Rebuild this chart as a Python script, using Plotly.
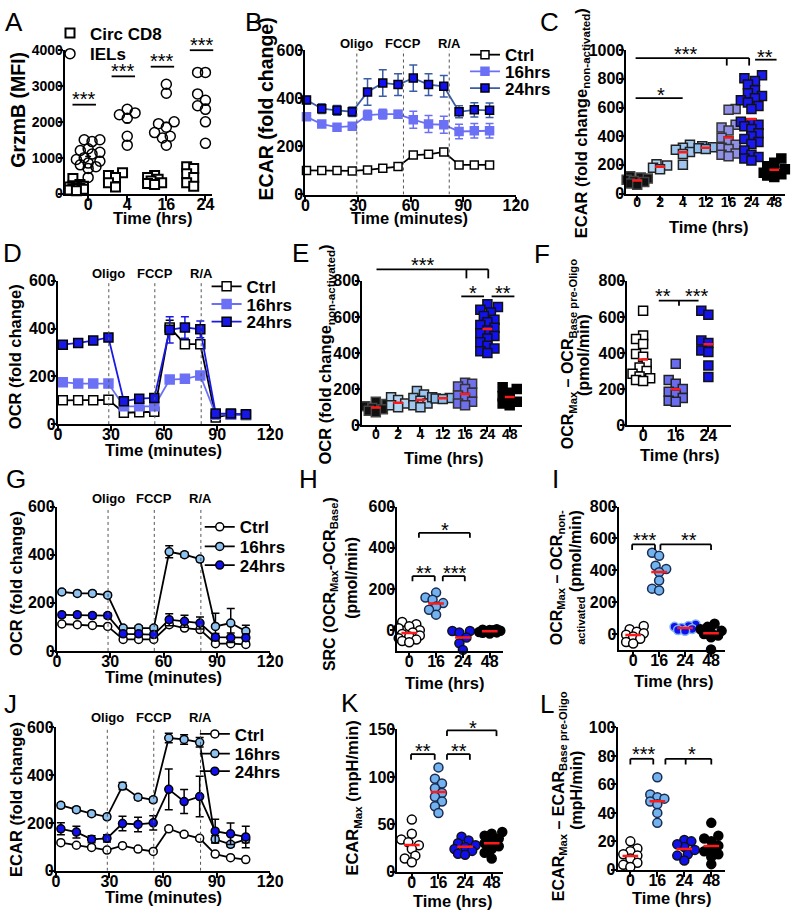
import numpy as np
import plotly.graph_objects as go

W, H = 799, 923
FONT = "Liberation Sans, Arial, Helvetica, sans-serif"

# ---------------- data ----------------
A_cats = ["0", "4", "16", "24"]
A_cd8 = [[420, 250, 220, 200, 180, 160, 150, 130, 120, 100, 80],
         [580, 500, 450, 300, 180],
         [500, 450, 400, 350, 300, 280, 250],
         [750, 700, 550, 450, 300, 200]]
A_iel = [[1500, 1500, 1450, 1250, 1200, 1150, 1100, 1000, 950, 900, 850, 800, 750, 700, 450],
         [2350, 2250, 2200, 2100, 1600, 1350],
         [3050, 2800, 2000, 1950, 1850, 1700, 1600, 1550, 1350],
         [3380, 3380, 2780, 2600, 2450, 2400, 2350, 2150, 2000, 1400]]
A_sig_y = [2480, 3270, 3540, 4000]

TC_ticks = [0, 30, 60, 90, 120]
INJ = ["Oligo", "FCCP", "R/A"]

B_time = [0.6, 9.3, 18.0, 26.7, 35.4, 44.1, 52.8, 61.5, 70.2, 78.9, 87.6, 96.3, 105.0]
B_inj = [29.3, 55.9, 82.0]
B_ctrl = [100, 100, 100, 98, 102, 109, 116, 164, 167, 177, 123, 123, 123]
B_ctrl_err = [4, 4, 4, 4, 4, 5, 5, 8, 8, 8, 5, 5, 5]
B_16 = [323, 293, 280, 284, 330, 334, 334, 311, 293, 290, 262, 265, 265]
B_16_err = [10, 10, 10, 10, 20, 20, 15, 35, 35, 35, 30, 30, 30]
B_24 = [393, 357, 350, 344, 426, 464, 457, 484, 457, 450, 344, 352, 350]
B_24_err = [15, 20, 20, 20, 55, 55, 45, 55, 45, 45, 25, 30, 30]

T_time = [2.8, 11.5, 20.0, 28.6, 37.3, 46.0, 54.5, 63.2, 71.8, 80.5, 89.2, 97.8, 106.3]
T_inj = [28.8, 54.8, 81.0]

D_ctrl = [100, 100, 100, 102, 48, 50, 52, 405, 335, 335, 28, 41, 39]
D_ctrl_err = [5, 5, 5, 5, 5, 5, 5, 30, 15, 15, 5, 5, 5]
D_16 = [176, 170, 170, 170, 75, 75, 75, 187, 190, 204, 40, 40, 40]
D_16_err = [8, 8, 8, 8, 8, 8, 8, 15, 15, 15, 5, 5, 5]
D_24 = [333, 340, 350, 363, 96, 107, 110, 395, 405, 397, 45, 45, 42]
D_24_err = [8, 8, 8, 8, 15, 15, 15, 55, 45, 35, 8, 8, 8]

G_ctrl = [112, 109, 106, 102, 48, 48, 48, 109, 95, 89, 30, 30, 27]
G_ctrl_err = [5, 5, 5, 5, 5, 5, 5, 8, 8, 8, 5, 5, 5]
G_16 = [245, 239, 239, 232, 95, 95, 95, 412, 400, 382, 102, 116, 82]
G_16_err = [8, 8, 8, 8, 10, 10, 10, 25, 10, 10, 55, 60, 25]
G_24 = [150, 150, 147, 147, 71, 71, 68, 130, 123, 116, 57, 55, 55]
G_24_err = [10, 10, 10, 10, 10, 10, 10, 25, 25, 25, 15, 20, 15]

J_ctrl = [118, 107, 98, 87, 105, 91, 81, 176, 153, 136, 70, 55, 47]
J_ctrl_err = [5, 5, 5, 5, 5, 5, 5, 8, 8, 8, 5, 5, 5]
J_16 = [274, 256, 239, 226, 355, 308, 297, 556, 550, 538, 132, 111, 132]
J_16_err = [10, 10, 10, 10, 15, 10, 10, 20, 20, 20, 15, 10, 15]
J_24 = [176, 162, 132, 136, 198, 194, 201, 341, 290, 311, 166, 155, 142]
J_24_err = [25, 25, 15, 15, 30, 30, 30, 85, 50, 85, 50, 45, 45]

C_cats = ["0", "2", "4", "12", "16", "24", "48"]
C_vals = [[120, 112, 104, 96, 88, 80, 70, 62],
          [205, 195, 180, 170],
          [340, 320, 305, 290, 275, 200],
          [330, 322, 316, 310],
          [590, 585, 480, 460, 440, 390, 365, 340, 320, 310, 280, 270, 260],
          [825, 805, 785, 760, 720, 700, 680, 665, 650, 635, 610, 590, 500, 490, 480,
           470, 450, 420, 400, 380, 360, 345, 300, 270, 255, 245, 230],
          [245, 215, 190, 170, 155, 145, 135, 125, 115]]
E_cats = ["0", "2", "4", "12", "16", "24", "48"]
E_vals = [[130, 118, 105, 95, 88, 80, 72],
          [155, 140, 120, 110, 100],
          [190, 170, 150, 135, 120, 110, 100],
          [155, 150, 148, 145],
          [235, 230, 215, 200, 180, 165, 150, 130, 120, 110],
          [670, 655, 640, 625, 605, 585, 570, 555, 540, 525, 510, 495, 480, 460, 440,
           425, 410, 400],
          [210, 200, 180, 160, 140, 130, 120, 110]]
F_cats = ["0", "16", "24"]
F_vals = [[634, 497, 478, 450, 395, 380, 340, 320, 300, 285, 270, 260, 250, 245],
          [340, 250, 230, 200, 185, 170, 150, 135, 130],
          [634, 612, 469, 455, 414, 405, 331, 267]]
HL_cats = ["0", "16", "24", "48"]
H_vals = [[40, 30, 20, 10, 0, -10, -18, -25, -30, -38, -45, -52, -58],
          [183, 159, 148, 132, 116, 100, 76],
          [-3, -3, -11, -35, -63, -95],
          [5, 3, 2, 0, -2, -5, -8, -10, -12, -15]]
I_vals = [[50, 30, 15, 5, -5, -15, -30, -50, -60],
          [511, 491, 429, 408, 388, 336, 285, 274],
          [60, 50, 45, 38, 32, 25, 20],
          [65, 45, 30, 20, 10, 0, -10, -20, -97]]
K_vals = [[55, 40, 34, 31, 28, 24, 17, 14, 10],
          [110, 98, 93, 88, 83, 79, 74, 69, 62],
          [37, 33, 30, 28, 26, 24, 22, 19, 18],
          [42, 40, 38, 35, 32, 30, 27, 24, 20, 14]]
L_vals = [[20, 15, 13, 11, 10, 8, 5, 3.5, 2],
          [65, 53, 51, 50, 48, 46, 40, 33],
          [21, 20, 16, 11, 10, 6.5, 18, 14],
          [33, 24, 20, 17, 13, 11, 9, 4, 14, 22]]

# ---------------- geometry (pixels) ----------------
PAN = {
    'A': dict(x=(62, 213), y=(43, 189), xr=(-0.6, 3.18), yr=(0, 4000), yt=[0, 1000, 2000, 3000, 4000]),
    'B': dict(x=(308, 523), y=(43, 190), xr=(0, 120), yr=(0, 600), yt=[0, 200, 400, 600]),
    'C': dict(x=(636, 798), y=(43, 189), xr=(-0.47, 6.47), yr=(0, 1000), yt=[0, 200, 400, 600, 800, 1000]),
    'D': dict(x=(55, 272), y=(278, 424), xr=(0, 120), yr=(0, 600), yt=[0, 200, 400, 600]),
    'E': dict(x=(366, 529), y=(278, 425), xr=(-0.61, 6.54), yr=(0, 800), yt=[0, 200, 400, 600, 800]),
    'F': dict(x=(637, 743), y=(278, 425), xr=(-0.48, 2.7), yr=(0, 800), yt=[0, 200, 400, 600, 800]),
    'G': dict(x=(54, 272), y=(508, 655), xr=(0, 120), yr=(0, 600), yt=[0, 200, 400, 600]),
    'H': dict(x=(402, 510), y=(508, 655), xr=(-0.44, 3.5), yr=(-100, 600), yt=[0, 200, 400, 600]),
    'I': dict(x=(628, 737), y=(508, 654), xr=(-0.56, 3.55), yr=(-100, 800), yt=[0, 200, 400, 600, 800]),
    'J': dict(x=(53, 272), y=(733, 879), xr=(0, 120), yr=(0, 600), yt=[0, 200, 400, 600]),
    'K': dict(x=(402, 510), y=(735, 880), xr=(-0.54, 3.43), yr=(0, 150), yt=[0, 50, 100, 150]),
    'L': dict(x=(627, 737), y=(733, 878), xr=(-0.47, 3.52), yr=(0, 100), yt=[0, 20, 40, 60, 80, 100]),
}
ORDER = list("ABCDEFGHIJKL")


def ids(p):
    i = ORDER.index(p) + 1
    s = "" if i == 1 else str(i)
    return "x" + s, "y" + s, "xaxis" + s, "yaxis" + s


def scales(p):
    g = PAN[p]
    ppc = (g['x'][1] - g['x'][0]) / (g['xr'][1] - g['xr'][0])
    ppu = (g['y'][1] - g['y'][0]) / (g['yr'][1] - g['yr'][0])
    return ppc, ppu


def to_paper(p, x, y):
    g = PAN[p]
    (x0, x1), (y0, y1) = g['x'], g['y']
    (a, b), (c, d) = g['xr'], g['yr']
    px = x0 + (x - a) / (b - a) * (x1 - x0)
    py = y1 - (y - c) / (d - c) * (y1 - y0)
    return px / W, 1 - py / H


def swarm(vals, size, ppu, ppc, mind=0.8, maxhalf=12):
    n = len(vals)
    order = sorted(range(n), key=lambda i: vals[i])
    placed, offs = [], [0.0] * n
    step = size * 0.4
    for j, i in enumerate(order):
        y = vals[i] * ppu
        sg = 1 if j % 2 == 0 else -1
        cands = [0.0]
        k = 1
        while k * step <= maxhalf:
            cands += [sg * k * step, -sg * k * step]
            k += 1
        best, bestd = 0.0, -1.0
        for c in cands:
            d = min([((c - px) ** 2 + (y - py) ** 2) ** 0.5 for px, py in placed] or [1e9])
            if d >= size * mind:
                best = c
                break
            if d > bestd:
                best, bestd = c, d
        placed.append((best, y))
        offs[i] = best / ppc
    return offs


fig = go.Figure()
layout = {}
shapes = []
annos = []


def tfont(size, bold=True, color="black"):
    d = dict(family=FONT, size=size, color=color)
    if bold:
        d['weight'] = 'bold'
    return d


# axes
for p in ORDER:
    g = PAN[p]
    xs, ys, xa, ya = ids(p)
    common = dict(showline=True, linecolor='black', linewidth=2, ticks='outside', ticklen=5,
                  tickwidth=2, tickcolor='black', showgrid=False, zeroline=False,
                  fixedrange=True, mirror=False)
    if g['xr'] == (0, 120):
        xt = dict(tickvals=TC_ticks, ticktext=[str(v) for v in TC_ticks], tickfont=tfont(16))
    else:
        cats = {'A': A_cats, 'C': C_cats, 'E': E_cats, 'F': F_cats}.get(p, HL_cats)
        fs = 14 if p in 'CE' else 16
        xt = dict(tickvals=list(range(len(cats))), ticktext=cats, tickfont=tfont(fs))
    yfs = 14 if p == 'A' else 16
    layout[xa] = dict(domain=[g['x'][0] / W, g['x'][1] / W], range=list(g['xr']), anchor=ys,
                      ticklabelstandoff=-10, **common, **xt)
    layout[ya] = dict(domain=[1 - g['y'][1] / H, 1 - g['y'][0] / H], range=list(g['yr']), anchor=xs,
                      tickvals=g['yt'], ticktext=[str(v) for v in g['yt']], tickfont=tfont(yfs),
                      ticklabelstandoff=-8, **common)


def cat_points(p, groups, fills, lines, symbol, size, offset=0.0, lw=1.5, name=None, legend=None,
               showlegend=False, maxhalf=11):
    xs, ys = ids(p)[:2]
    ppc, ppu = scales(p)
    X, Y, FC, LC = [], [], [], []
    for i, vals in enumerate(groups):
        offs = swarm(vals, size, ppu, ppc, maxhalf=maxhalf)
        X += [i + offset + o for o in offs]
        Y += list(vals)
        FC += [fills[i]] * len(vals)
        LC += [lines[i]] * len(vals)
    fig.add_trace(go.Scatter(x=X, y=Y, mode='markers', xaxis=xs, yaxis=ys, cliponaxis=False,
                             marker=dict(symbol=symbol, size=size, color=FC, line=dict(color=LC, width=lw)),
                             name=name, legend=legend, showlegend=showlegend, hoverinfo='skip'))


def mean_lines(p, groups, half_px, color='#ff1a1a', width=2.5, offset=0.0):
    xs, ys = ids(p)[:2]
    ppc, _ = scales(p)
    h = half_px / ppc
    X, Y = [], []
    for i, vals in enumerate(groups):
        m = float(np.mean(vals))
        X += [i + offset - h, i + offset + h, None]
        Y += [m, m, None]
    fig.add_trace(go.Scatter(x=X, y=Y, mode='lines', xaxis=xs, yaxis=ys, line=dict(color=color, width=width),
                             showlegend=False, hoverinfo='skip'))


def seg(p, x0, y0, x1, y1, w=1.8):
    a = to_paper(p, x0, y0)
    b = to_paper(p, x1, y1)
    shapes.append(dict(type='line', xref='paper', yref='paper', x0=a[0], y0=a[1], x1=b[0], y1=b[1],
                       line=dict(color='black', width=w)))


def stars(p, text, x, y):
    a = to_paper(p, x, y)
    annos.append(dict(x=a[0], y=a[1], xref='paper', yref='paper', text=text, showarrow=False,
                      xanchor='center', yanchor='middle', yshift=-4, font=tfont(20, bold=False)))


def bracket(p, x0, x1, y, ydrop=None, drops=(), text='', tx=None, ty=None):
    seg(p, x0, y, x1, y)
    for d in drops:
        seg(p, d, y, d, ydrop)
    if text:
        stars(p, text, tx, ty)


def tc(p, t, y, err, name, mfill, mline, lcolor, ecolor, symbol, size, legend):
    xs, ys = ids(p)[:2]
    fig.add_trace(go.Scatter(x=t, y=y, mode='lines+markers', xaxis=xs, yaxis=ys, name=name, legend=legend,
                             cliponaxis=False,
                             error_y=dict(type='data', array=err, visible=True, color=ecolor, thickness=1.5, width=4),
                             line=dict(color=lcolor, width=1.8),
                             marker=dict(symbol=symbol, size=size, color=mfill, line=dict(color=mline, width=1.5)),
                             hoverinfo='skip'))


def injections(p, times, label_y_px):
    xs, ys = ids(p)[:2]
    top = PAN[p]['yr'][1]
    for t, lab in zip(times, INJ):
        shapes.append(dict(type='line', xref=xs, yref=ys, x0=t, x1=t, y0=0, y1=top,
                           line=dict(color='#555555', width=1, dash='dot')))
        annos.append(dict(x=t, y=1 - label_y_px / H, xref=xs, yref='paper', text=lab, showarrow=False,
                          xanchor='center', yanchor='middle', font=tfont(13)))


# one single-row legend per entry
LEG = {}


def leg(name, x_px, y_px):
    LEG[name] = dict(x=x_px / W, y=1 - (y_px - 2) / H, xanchor='left', yanchor='middle',
                     bgcolor='rgba(0,0,0,0)', font=tfont(17), itemwidth=30, tracegroupgap=0, borderwidth=0)
    return name


# ---------------- Panel A ----------------
cat_points('A', A_cd8, ['white'] * 4, ['black'] * 4, 'square', 9, offset=-0.3, lw=2,
           name='Circ CD8', legend=leg('legend', 47, 28), showlegend=True, maxhalf=9)
cat_points('A', A_iel, ['rgba(255,255,255,0)'] * 4, ['black'] * 4, 'circle', 10, offset=0.0, lw=1.5,
           name='IELs', legend=leg('legend2', 47, 49), showlegend=True, maxhalf=13)
mean_lines('A', A_iel, 3, color='black', width=1.5)
for i, yv in enumerate(A_sig_y):
    bracket('A', i - 0.4, i + 0.2, yv, text='***', tx=i - 0.1, ty=yv + 260)

# ---------------- Panel B ----------------
tc('B', B_time, B_ctrl, B_ctrl_err, 'Ctrl', 'white', 'black', 'black', 'black', 'square', 8, leg('legend3', 471, 50))
tc('B', B_time, B_16, B_16_err, '16hrs', '#6b70f5', '#6b70f5', '#6b70f5', '#6b70f5', 'square', 8, leg('legend4', 471, 67))
tc('B', B_time, B_24, B_24_err, '24hrs', '#1010f0', 'black', '#3a5da5', '#3a5da5', 'square', 8, leg('legend5', 471, 84))
injections('B', B_inj, 36)

# ---------------- Panel C ----------------
C_fill = ['#111111', '#b3d3f3', '#9fc6ee', '#8cbbec', '#9090e6', '#1a1aee', '#000000']
C_line = ['#444444', '#222222', '#222222', '#222222', '#333333', '#111111', '#000000']
cat_points('C', C_vals, C_fill, C_line, 'square', 9, maxhalf=12)
mean_lines('C', C_vals, 5)
bracket('C', -0.07, 4.9, 945, 893, [3.92, 4.9], '***', 2.13, 1000)
bracket('C', 5.16, 6.1, 934, text='**', tx=5.6, ty=984)
bracket('C', -0.07, 1.99, 666, text='*', tx=1.06, ty=718)

# ---------------- Panel D ----------------
tc('D', T_time, D_ctrl, D_ctrl_err, 'Ctrl', 'white', 'black', 'black', 'black', 'square', 9, leg('legend6', 207, 286))
tc('D', T_time, D_16, D_16_err, '16hrs', '#6b70f5', '#6b70f5', '#6b70f5', '#6b70f5', 'square', 9, leg('legend7', 207, 304))
tc('D', T_time, D_24, D_24_err, '24hrs', '#1818e6', 'black', '#1a1ae6', '#1a1ae6', 'square', 9, leg('legend8', 207, 322))
injections('D', T_inj, 270)

# ---------------- Panel E ----------------
E_fill = ['#111111', '#b3d3f3', '#9fc6ee', '#8cbbec', '#7070ee', '#1212f0', '#000000']
cat_points('E', E_vals, E_fill, C_line, 'square', 9, maxhalf=12)
mean_lines('E', E_vals, 5)
bracket('E', 0.03, 5.04, 864, 814, [4.06, 5.04], '***', 2.12, 909)
bracket('E', 3.83, 4.85, 714, text='*', tx=4.34, ty=754)
bracket('E', 5.19, 6.21, 714, text='**', tx=5.7, ty=754)

# ---------------- Panel F ----------------
cat_points('F', F_vals, ['white', '#6a6cf0', '#1414e8'], ['black', '#222222', '#111111'], 'square', 9, maxhalf=11)
mean_lines('F', F_vals, 5)
bracket('F', 0.48, 1.7, 690, 662, [1.1])
stars('F', '**', 0.6, 736)
stars('F', '***', 1.65, 736)

# ---------------- Panel G ----------------
tc('G', T_time, G_ctrl, G_ctrl_err, 'Ctrl', 'white', 'black', 'black', 'black', 'circle', 8, leg('legend9', 200, 531))
tc('G', T_time, G_16, G_16_err, '16hrs', '#8ec2f0', 'black', 'black', 'black', 'circle', 8, leg('legend10', 200, 551))
tc('G', T_time, G_24, G_24_err, '24hrs', '#1010ee', 'black', 'black', 'black', 'circle', 8, leg('legend11', 200, 570))
injections('G', T_inj, 500)

# ---------------- Panel H ----------------
HL_fill = ['white', '#72b2ee', '#1010ee', '#000000']
HL_line = ['black', '#1a2a50', '#111111', '#000000']
cat_points('H', H_vals, HL_fill, HL_line, 'circle', 9)
mean_lines('H', H_vals, 8)
bracket('H', 0.12, 0.95, 263, 238, [0.12, 0.95], '**', 0.56, 298)
bracket('H', 1.25, 2.07, 263, 238, [1.25, 2.07], '***', 1.71, 298)
bracket('H', 0.36, 2.26, 473, 449, [0.36, 2.26], '*', 1.35, 508)

# ---------------- Panel I ----------------
cat_points('I', I_vals, HL_fill, ['black', '#1a2a50', '#7fb5ee', '#000000'], 'circle', 9)
mean_lines('I', I_vals, 8)
bracket('I', -0.04, 0.84, 563, 528, [-0.04, 0.84], '***', 0.44, 614)
bracket('I', 1.05, 3.0, 563, 528, [1.05, 3.0], '**', 2.15, 614)

# ---------------- Panel J ----------------
tc('J', T_time, J_ctrl, J_ctrl_err, 'Ctrl', 'white', 'black', 'black', 'black', 'circle', 8, leg('legend12', 195, 742))
tc('J', T_time, J_16, J_16_err, '16hrs', '#8ec2f0', 'black', 'black', 'black', 'circle', 8, leg('legend13', 195, 762))
tc('J', T_time, J_24, J_24_err, '24hrs', '#1010ee', 'black', 'black', 'black', 'circle', 8, leg('legend14', 195, 780))
injections('J', T_inj, 723)

# ---------------- Panel K ----------------
cat_points('K', K_vals, HL_fill, HL_line, 'circle', 9)
mean_lines('K', K_vals, 8)
bracket('K', -0.03, 0.86, 124, 118, [-0.03, 0.86], '**', 0.43, 132)
bracket('K', 1.32, 2.18, 124, 118, [1.32, 2.18], '**', 1.78, 132)
bracket('K', 1.32, 3.18, 149, 143, [1.32, 3.18], '*', 2.3, 156)

# ---------------- Panel L ----------------
cat_points('L', L_vals, HL_fill, HL_line, 'circle', 9)
mean_lines('L', L_vals, 8)
bracket('L', 0.0, 0.85, 78, 74, [0.0, 0.85], '***', 0.51, 84)
bracket('L', 1.3, 3.0, 78, 74, [1.3, 2.05, 3.0], '*', 2.29, 84)


# ---------------- text ----------------
def ptext(text, x, y, size, bold=True, angle=0):
    annos.append(dict(x=x / W, y=1 - y / H, xref='paper', yref='paper', text=text, showarrow=False,
                      xanchor='center', yanchor='middle', textangle=angle, font=tfont(size, bold)))


for lab, (x, y) in zip(ORDER, [(10, 14), (255, 14), (557, 14), (9, 250), (303, 250), (550, 251),
                                (12, 480), (311, 480), (563, 480), (7, 709), (354, 708), (555, 709)]):
    ptext(lab, x, y, 26, bold=False)

# x titles
for txt, x, y in [("Time (hrs)", 152, 214), ("Time (minutes)", 414, 214), ("Time (hrs)", 720, 223),
                  ("Time (minutes)", 163, 450), ("Time (hrs)", 449, 458), ("Time (hrs)", 690, 455),
                  ("Time (minutes)", 163, 682), ("Time (hrs)", 450, 688), ("Time (hrs)", 684, 686),
                  ("Time (minutes)", 163, 906), ("Time (hrs)", 458, 910), ("Time (hrs)", 682, 907)]:
    ptext(txt, x, y, 16.5)

# y titles
for txt, x, y, s in [("GrzmB (MFI)", 14, 104, 19.5),
                     ("ECAR (fold change)", 268, 103, 19.5),
                     ("ECAR (fold change<sub>non-activated</sub>)", 590, 117, 16.5),
                     ("OCR (fold change)", 12, 355, 16.5),
                     ("OCR (fold change<sub>non-activated</sub>)", 330, 353, 16.5),
                     ("OCR<sub>Max</sub> – OCR<sub>Base pre-Oligo</sub>", 577, 353, 16),
                     ("(pmol/min)", 592, 353, 16),
                     ("OCR (fold change)", 12, 586, 16.5),
                     ("SRC (OCR<sub>Max</sub>-OCR<sub>Base</sub>)", 333, 587, 16),
                     ("(pmol/min)", 355, 580, 16),
                     ("OCR<sub>Max</sub> – OCR<sub>non-</sub>", 565, 580, 16),
                     ("<sub>activated</sub> (pmol/min)", 585, 580, 16),
                     ("ECAR (fold change)", 12, 806, 16.5),
                     ("ECAR<sub>Max</sub> (mpH/min)", 357, 805, 16.5),
                     ("ECAR<sub>Max</sub> – ECAR<sub>Base pre-Oligo</sub>", 567, 803, 16),
                     ("(mpH/min)", 585, 797, 16)]:
    ptext(txt, x, y, s, angle=-90)

layout.update(dict(
    width=W, height=H, autosize=False, margin=dict(l=0, r=0, t=0, b=0),
    paper_bgcolor='white', plot_bgcolor='rgba(0,0,0,0)', hovermode=False,
    font=dict(family=FONT, color='black'),
    shapes=shapes, annotations=annos,
))
layout.update(LEG)
fig.update_layout(**layout)
fig.write_html("out.html", config={'displayModeBar': False},
               post_script="document.body.style.margin='0px';document.body.style.overflow='hidden';")
